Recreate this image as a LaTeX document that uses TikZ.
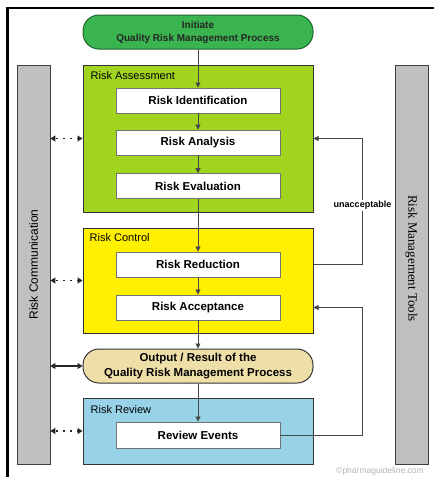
\documentclass[tikz,border=0pt]{standalone}
\usepackage{fontspec}
\setmainfont{Liberation Sans}
\newfontfamily\toolsfont{Liberation Serif}
\usetikzlibrary{arrows.meta,calc}
\definecolor{initgreen}{RGB}{58,180,78}
\definecolor{initedge}{RGB}{30,100,45}
\definecolor{assessgreen}{RGB}{160,212,30}
\definecolor{controlyellow}{RGB}{255,240,0}
\definecolor{outputtan}{RGB}{238,222,168}
\definecolor{reviewblue}{RGB}{152,210,232}
\definecolor{bargray}{RGB}{192,192,192}
\definecolor{linegray}{RGB}{70,70,70}

\begin{document}
\begin{tikzpicture}[x=1pt,y=-1pt,
  >={Triangle[length=5pt,width=5pt]},
  pill/.style={draw=#1, line width=1pt, rounded corners=16pt, minimum width=230pt, minimum height=34pt, align=center, font=\bfseries\fontsize{11.5}{14.5}\selectfont},
  stage/.style={draw=black!80, fill=#1, line width=1pt, minimum width=230pt},
  stepbox/.style={draw=black!55, fill=white, line width=0.8pt, minimum width=164pt, minimum height=25pt, font=\bfseries\fontsize{11.5}{14}\selectfont},
  stagelabel/.style={anchor=west, inner sep=0pt, font=\fontsize{11}{13}\selectfont},
  bar/.style={draw=black!75, fill=bargray, line width=0.8pt, minimum width=33pt, minimum height=399pt},
  flow/.style={->, draw=linegray, line width=0.7pt},
  talk/.style={{Triangle[length=5pt,width=6pt]}-{Triangle[length=5pt,width=6pt]}, draw=black!85, line width=1.1pt},
  talkdots/.style={talk, dash pattern=on 2pt off 5pt, dash phase=-1pt}]
\useasboundingbox (0,0) rectangle (434,477);
% frame
\draw[line width=2.6pt] (7.5,477) -- (7.5,8) -- (434,8);

% side bars
\node[bar] (comm) at (33.5,264.5) {};
\node[rotate=90, font=\fontsize{12}{14}\selectfont] (commtext) at (comm) {Risk Communication};
\node[bar] (tools) at (411.5,264.5) {};
\node[rotate=-90, font=\toolsfont\fontsize{13}{15}\selectfont] (toolstext) at ($(tools)+(0,-6)$) {Risk Management Tools};

% start and output
\node[pill=initedge, fill=initgreen, text=black!85, font=\bfseries\fontsize{10}{13}\selectfont] (init) at (198,32) {Initiate\\Quality Risk Management Process};
\node[pill=black!80, fill=outputtan] (output) at (198,366) {Output / Result of the\\Quality Risk Management Process};

% stages
\node[stage=assessgreen, minimum height=147pt] (assess) at (198,138.5) {};
\node[stagelabel] (assesslabel) at ($(assess.north west)+(8,11)$) {Risk Assessment};
\node[stage=controlyellow, minimum height=105pt] (control) at (198,280.5) {};
\node[stagelabel] (controllabel) at ($(control.north west)+(7,10)$) {Risk Control};
\node[stage=reviewblue, minimum height=66pt] (review) at (198,431) {};
\node[stagelabel] (reviewlabel) at ($(review.north west)+(8,12)$) {Risk Review};

\node[stepbox] (ident) at (198,100.5) {Risk Identification};
\node[stepbox] (analysis) at (198,142.5) {Risk Analysis};
\node[stepbox] (eval) at (198,186) {Risk Evaluation};
\node[stepbox] (reduce) at (198,264.5) {Risk Reduction};
\node[stepbox] (accept) at (198,307.5) {Risk Acceptance};
\node[stepbox, minimum height=26pt] (events) at (198,435) {Review Events};

% main flow
\draw[flow] (init) -- (ident);
\draw[flow] (ident) -- (analysis);
\draw[flow] (analysis) -- (eval);
\draw[flow] (eval) -- (reduce);
\draw[flow] (reduce) -- (accept);
\draw[flow] (accept) -- (output);
\draw[flow] (output) -- (events);

% feedback loops
\draw[flow] (control.east |- reduce.east) -- ++(49,0) |- node[pos=0.235, fill=white, inner sep=1.5pt, font=\bfseries\fontsize{9}{11}\selectfont] (unacc) {unacceptable} (assess.east);
\draw[flow] (events.east) -- ++(82,0) |- (control.east |- accept.east);

% communication
\draw[talkdots] (comm.east |- assess.west) -- (assess.west);
\draw[talkdots] (comm.east |- control.west) -- (control.west);
\draw[talk] (comm.east |- output.west) -- (output.west);
\draw[talkdots] (comm.east |- review.west) -- (review.west);

\node[text=black!30, font=\fontsize{8.5}{10}\selectfont] (mark) at (380,471) {©pharmaguideline.com};
\end{tikzpicture}
\end{document}
